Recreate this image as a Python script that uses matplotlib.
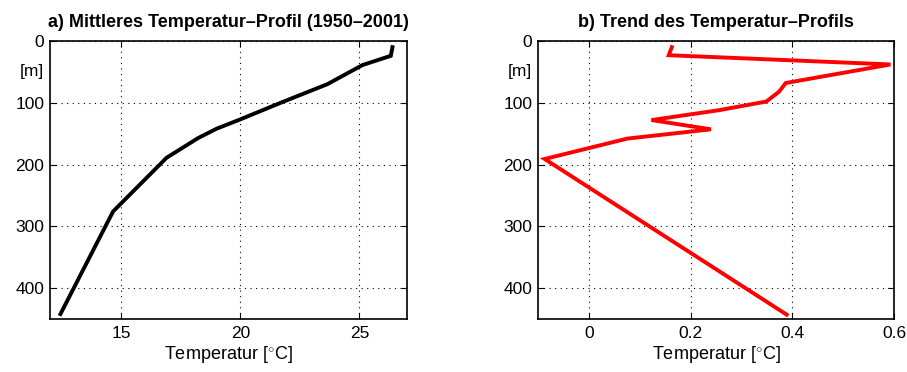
"""
Temperature profile: mean and trend
"""

import numpy as np
import matplotlib.pyplot as plt
import matplotlib.transforms as mtransforms

            #### DATA ####

depth_mean = [10, 24, 39, 70, 98, 127, 142, 157, 189, 276, 442]
temp_mean = [26.39, 26.32, 25.13, 23.65, 21.82, 19.99, 19.0, 18.23, 16.9, 14.65, 12.44]

depth_trend = [10, 23, 38, 68, 82, 98, 112, 128, 143, 158, 191, 443]
temp_trend = [0.163, 0.157, 0.593, 0.387, 0.374, 0.349, 0.256, 0.123, 0.240, 0.0755, -0.087, 0.389]

titles = ['a) Mittleres Temperatur\u2013Profil (1950\u20132001)',
          'b) Trend des Temperatur\u2013Profils']
xticks_a = [15, 20, 25]
xticks_b = [0, 0.2, 0.4, 0.6]
yticks = [0, 100, 200, 300, 400]

            #### STYLE ####

plt.rcParams['font.family'] = ['Liberation Sans', 'DejaVu Sans']
plt.rcParams['mathtext.fontset'] = 'custom'
plt.rcParams['mathtext.rm'] = 'Liberation Sans'

fig = plt.figure(figsize=(9.07, 3.72), dpi=100)
ax1 = fig.add_axes([0.0551, 0.1425, 0.3936, 0.7473])
ax2 = fig.add_axes([0.5932, 0.1425, 0.3925, 0.7473])

def Style_Axis(ax, title, xticks):
    """
    Apply the common MATLAB-like look to one panel
    """
    ax.set_ylim(450, 0)                                 # depth increases downward
    ax.set_yticks(yticks)
    ax.set_yticklabels([str(t) for t in yticks])
    ax.set_xticks(xticks)
    ax.set_xticklabels([('%g' % t) for t in xticks])
    ax.tick_params(direction='in', length=4, width=0.8, labelsize=12.5,
                   top=True, right=True, pad=5)
    ax.tick_params(axis='y', pad=4)
    ax.grid(True, linestyle=(0, (1, 4)), color='black', linewidth=0.8)
    for sp in ax.spines.values():
        sp.set_linewidth(1.2)
    ax.set_title(title, fontsize=13, fontweight='bold', pad=10)
    ax.set_xlabel(r'Temperatur [$^{\circ}$C]', fontsize=13, labelpad=2)
    trans = mtransforms.blended_transform_factory(ax.transAxes, ax.transData)
    ax.text(-0.018, 50, '[m]', transform=trans, ha='right', va='center',
            fontsize=12.5)

            #### PLOT ####

ax1.plot(temp_mean, depth_mean, color='black', linewidth=2.8,
         solid_joinstyle='miter')
ax1.set_xlim(12, 27)
Style_Axis(ax1, titles[0], xticks_a)

ax2.plot(temp_trend, depth_trend, color='red', linewidth=2.8,
         solid_joinstyle='miter')
ax2.set_xlim(-0.1, 0.6)
Style_Axis(ax2, titles[1], xticks_b)

plt.savefig('out.png', dpi=100)
plt.close()
